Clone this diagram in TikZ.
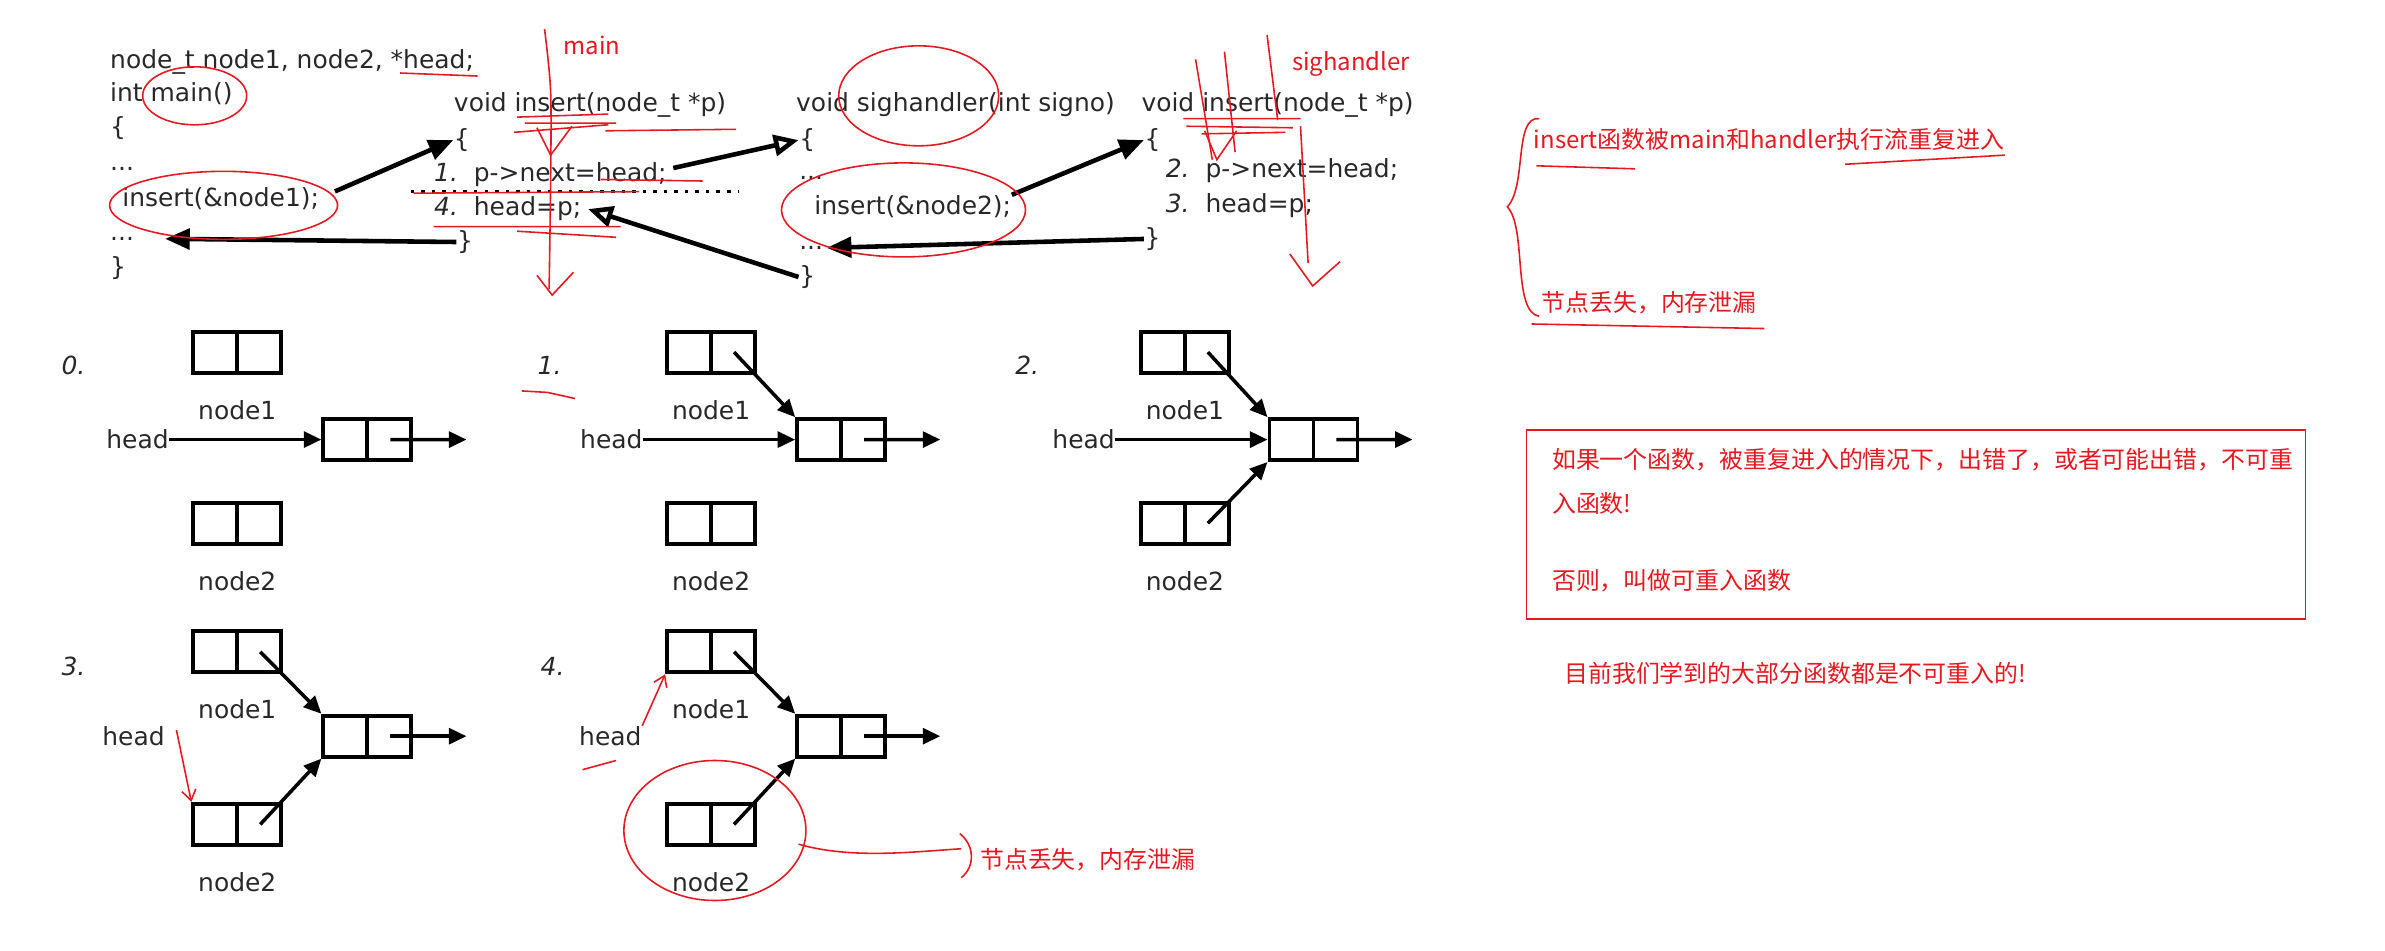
\documentclass[tikz,border=0pt]{standalone}
\usepackage{fontspec}
\setmainfont{DejaVu Sans}
\newfontfamily\cjk{Noto Sans CJK SC}
\usetikzlibrary{arrows.meta,positioning,calc}
\definecolor{ink}{RGB}{232,24,32}
\definecolor{codegray}{RGB}{40,40,40}

\begin{document}
\begin{tikzpicture}[x=0.1521mm, y=-0.1521mm,
    code/.style={anchor=base west, inner sep=0pt, text=codegray, font=\fontsize{7.1}{8.5}\selectfont},
    stepno/.style={anchor=west, inner sep=0pt, text=codegray, font=\fontsize{7.1}{8.5}\selectfont\itshape},
    lbl/.style={inner sep=0pt, text=codegray, font=\fontsize{7.1}{8.5}\selectfont},
    cell/.style={draw, line width=1.1pt, minimum width=8.8mm, minimum height=4.1mm, inner sep=0pt,
      path picture={\draw[line width=1.1pt] (path picture bounding box.north) -- (path picture bounding box.south);}},
    flow/.style={line width=1.3pt, -{Triangle[length=7pt,width=5.8pt]}},
    flowback/.style={line width=1.3pt, -{Triangle[open,length=7pt,width=6pt]}},
    link/.style={line width=1pt, -{Triangle[length=5pt,width=4.5pt]}},
    note/.style={anchor=west, inner sep=0pt, text=ink, font=\cjk\fontsize{6.8}{8}\selectfont},
    pen/.style={draw=ink, line width=0.45pt},
    penarrow/.style={pen, -{Straight Barb[length=3pt,width=4pt]}}]
  \useasboundingbox (0,0) rectangle (1568,625);

  % main()
  \node[code] (decl) at (72,45) {node\_t node1, node2, *head;};
  \node[code] (mainf) at (72,67) {int main()};
  \node[code] (mopen) at (72,89) {\{};
  \node[code] (mdots1) at (72,112) {...};
  \node[code] (mcall) at (80,136) {insert(\&node1);};
  \node[code] (mdots2) at (72,158) {...};
  \node[code] (mclose) at (72,181) {\}};

  % insert() called from main
  \node[code] (ihead) at (298,73) {void insert(node\_t *p)};
  \node[code] (iopen) at (298,97) {\{};
  \node[code] (inext) at (285,119) {\textit{1.}\ \ p->next=head;};
  \node[code] (iset) at (285,142) {\textit{4.}\ \ head=p;};
  \node[code] (iclose) at (300,164) {\}};
  \draw[dotted, line width=1pt] (270,126) -- (485,126);

  % sighandler()
  \node[code] (shead) at (523,73) {void sighandler(int signo)};
  \node[code] (sopen) at (525,97) {\{};
  \node[code] (sdots1) at (525,118) {...};
  \node[code] (scall) at (535,141) {insert(\&node2);};
  \node[code] (sdots2) at (525,164) {...};
  \node[code] (sclose) at (525,187) {\}};

  % insert() called from sighandler
  \node[code] (hhead) at (750,73) {void insert(node\_t *p)};
  \node[code] (hopen) at (752,97) {\{};
  \node[code] (hnext) at (766,117) {\textit{2.}\ \ p->next=head;};
  \node[code] (hset) at (766,140) {\textit{3.}\ \ head=p;};
  \node[code] (hclose) at (752,162) {\}};

  \draw[flow] ($(mcall.east)+(10,-5)$) -- (iopen.west);
  \draw[flow] (iclose.west) -- ($(mdots2.east)+(20,0)$);
  \draw[flowback] ($(inext.east)+(4,-4)$) -- (sopen.west);
  \draw[flowback] (sclose.west) -- ($(iset.east)+(4,0)$);
  \draw[flow] (scall.north east) -- (hopen.west);
  \draw[flow] (hclose.west) -- ($(sdots2.east)+(2,0)$);

  % state 0
  \node[stepno] (s0) at (40,240) {0.};
  \node[cell] (a0) at (156,231.5) {};
  \node[cell] (m0) at (241.5,289) {};
  \node[cell] (b0) at (156,344) {};
  \node[lbl, below=2.5mm of a0] (a0l) {node1};
  \node[lbl, below=2.5mm of b0] (b0l) {node2};
  \node[lbl, left=15.2mm of m0] (h0) {head};
  \coordinate (o0) at ($(m0.east)+(35,0)$);
  \draw[link] (h0.east) -- (m0.west);
  \draw[link] ($(m0.center)!.5!(m0.east)$) -- (o0);

  % state 1
  \node[stepno] (s1) at (353,240) {1.};
  \node[cell] (a1) at (467.5,231.5) {};
  \node[cell] (m1) at (553,289) {};
  \node[cell] (b1) at (467.5,344) {};
  \node[lbl, below=2.5mm of a1] (a1l) {node1};
  \node[lbl, below=2.5mm of b1] (b1l) {node2};
  \node[lbl, left=15.2mm of m1] (h1) {head};
  \coordinate (o1) at ($(m1.east)+(35,0)$);
  \draw[link] (h1.east) -- (m1.west);
  \draw[link] ($(m1.center)!.5!(m1.east)$) -- (o1);
  \draw[link] ($(a1.center)!.5!(a1.east)$) -- (m1.north west);

  % state 2
  \node[stepno] (s2) at (667,240) {2.};
  \node[cell] (a2) at (779,231.5) {};
  \node[cell] (m2) at (863.5,289) {};
  \node[cell] (b2) at (779,344) {};
  \node[lbl, below=2.5mm of a2] (a2l) {node1};
  \node[lbl, below=2.5mm of b2] (b2l) {node2};
  \node[lbl, left=15.2mm of m2] (h2) {head};
  \coordinate (o2) at ($(m2.east)+(35,0)$);
  \draw[link] (h2.east) -- (m2.west);
  \draw[link] ($(m2.center)!.5!(m2.east)$) -- (o2);
  \draw[link] ($(a2.center)!.5!(a2.east)$) -- (m2.north west);
  \draw[link] ($(b2.center)!.5!(b2.east)$) -- (m2.south west);

  % state 3
  \node[stepno] (s3) at (40,438) {3.};
  \node[cell] (a3) at (156,428.5) {};
  \node[cell] (m3) at (241.5,484) {};
  \node[cell] (b3) at (156,542) {};
  \node[lbl, below=2.5mm of a3] (a3l) {node1};
  \node[lbl, below=2.5mm of b3] (b3l) {node2};
  \node[lbl, left=15.6mm of m3] (h3) {head};
  \coordinate (o3) at ($(m3.east)+(35,0)$);
  \draw[link] ($(m3.center)!.5!(m3.east)$) -- (o3);
  \draw[link] ($(a3.center)!.5!(a3.east)$) -- (m3.north west);
  \draw[link] ($(b3.center)!.5!(b3.east)$) -- (m3.south west);

  % state 4
  \node[stepno] (s4) at (355,438) {4.};
  \node[cell] (a4) at (467.5,428.5) {};
  \node[cell] (m4) at (553,484) {};
  \node[cell] (b4) at (467.5,542) {};
  \node[lbl, below=2.5mm of a4] (a4l) {node1};
  \node[lbl, below=2.5mm of b4] (b4l) {node2};
  \node[lbl, left=15.3mm of m4] (h4) {head};
  \coordinate (o4) at ($(m4.east)+(35,0)$);
  \draw[link] ($(m4.center)!.5!(m4.east)$) -- (o4);
  \draw[link] ($(a4.center)!.5!(a4.east)$) -- (m4.north west);
  \draw[link] ($(b4.center)!.5!(b4.east)$) -- (m4.south west);

  % red notes on the code
  \node[note] (mainnote) at (370,30) {main};
  \node[note] (signote) at (849,42) {sighandler};
  \draw[pen] (128,63) ellipse [x radius=5.2mm, y radius=2.9mm];
  \draw[pen] (147,135) ellipse [x radius=11.4mm, y radius=3.4mm];
  \draw[pen] (604,63) ellipse [x radius=8mm, y radius=5mm];
  \draw[pen] (594,138) ellipse [x radius=12.2mm, y radius=4.7mm];
  \draw[pen] (263,48) -- (314,50);
  \draw[pen] (340,77) -- (400,75) (345,81) -- (405,81) (338,87) -- (400,82) (398,86) -- (484,85);
  \draw[pen] (272,127) -- (420,126) (395,118) -- (462,119);
  \draw[pen] (285,149) -- (408,149) (340,152) -- (405,156);
  \draw[pen] plot[smooth] coordinates {(358,19) (362,60) (362,120) (361,190)};
  \draw[pen] (353,84) -- (362,102) -- (376,83) (353,181) -- (363,194) -- (377,179);
  \draw[pen] (778,78) -- (855,78) (780,83) -- (850,84) (790,88) -- (845,87);
  \draw[pen] (786,39) -- (797,105) (805,34) -- (812,100) (833,23) -- (840,79);
  \draw[pen] (792,86) -- (800,105) -- (813,86);
  \draw[pen] (855,83) -- (860,173) (848,167) -- (863,188) -- (881,172);

  % red notes on the lists
  \draw[pen] (343,257) -- (360,258) -- (378,262);
  \draw[penarrow] (116,480) -- (b3.north west);
  \draw[penarrow] (h4.north east) -- (a4.south west);
  \draw[pen] (383,506) -- (405,500);
  \draw[pen] (470,546) ellipse [x radius=9.1mm, y radius=7mm];
  \node[note] (lossb) at (644,565) {节点丢失，内存泄漏};
  \draw[pen] (525,555) .. controls (560,565) and (600,560) .. (632,558);
  \draw[pen] (631,548) .. controls (641,556) and (641,570) .. (632,577);

  % notes on the right
  \node[note] (reenter) at (1008,92) {insert函数被main和handler执行流重复进入};
  \node[note] (lossa) at (1013,199) {节点丢失，内存泄漏};
  \draw[pen] (1012,78) .. controls (995,76) and (1004,122) .. (991,136)
    .. controls (1004,150) and (994,205) .. (1012,208);
  \draw[pen] (1010,109) -- (1075,111) (1213,108) -- (1318,102);
  \draw[pen] (1007,213) -- (1160,216);
  \node[draw=ink, line width=0.45pt, anchor=north west, minimum width=77.9mm, minimum height=18.9mm] (rulebox) at (1003,282) {};
  \node[note] (rule1) at (1020,302) {如果一个函数，被重复进入的情况下，出错了，或者可能出错，不可重};
  \node[note] (rule2) at (1020,331) {入函数!};
  \node[note] (rule3) at (1020,382) {否则，叫做可重入函数};
  \node[note] (most) at (1028,443) {目前我们学到的大部分函数都是不可重入的!};
\end{tikzpicture}
\end{document}
